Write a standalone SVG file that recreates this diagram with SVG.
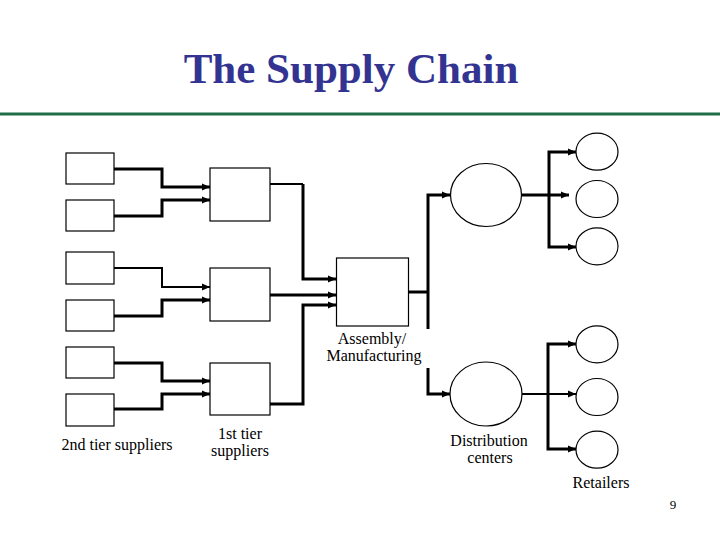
<svg xmlns="http://www.w3.org/2000/svg" width="720" height="540" viewBox="0 0 720 540">
<style>
.box{fill:#fff;stroke:#000;stroke-width:1.2}
.c{fill:none;stroke:#000;stroke-linejoin:miter}
.tk{stroke-width:3}
.tn{stroke-width:2}
.lbl{font-family:"Liberation Serif","Times New Roman",serif;font-size:16px;fill:#000;text-anchor:middle}
.title{font-family:"Liberation Serif","Times New Roman",serif;font-size:43px;font-weight:bold;fill:#333391;text-anchor:middle}
</style>
<defs>
<marker id="ah" markerUnits="userSpaceOnUse" markerWidth="9" markerHeight="8" refX="8" refY="4" orient="auto">
<path d="M0,0.5 L8,4 L0,7.5 z" fill="#000"/>
</marker>
</defs>
<rect width="720" height="540" fill="#fff"/>
<text class="title" x="351" y="83">The Supply Chain</text>
<rect x="0" y="112.5" width="720" height="3" fill="#1e6e46"/>

<g id="connectors">
<path class="c tk" d="M114,169 H162 V187 H210" marker-end="url(#ah)"/>
<path class="c tk" d="M114,216 H162 V200 H210" marker-end="url(#ah)"/>
<path class="c tn" d="M114,268 H162 V287 H210" marker-end="url(#ah)"/>
<path class="c tk" d="M114,316 H162 V300 H210" marker-end="url(#ah)"/>
<path class="c tk" d="M114,363 H162 V381 H210" marker-end="url(#ah)"/>
<path class="c tk" d="M114,409 H162 V394 H210" marker-end="url(#ah)"/>
<path class="c tn" d="M270,184 H303"/>
<path class="c tk" d="M303,184 V279 H336" marker-end="url(#ah)"/>
<path class="c tk" d="M270,295 H336" marker-end="url(#ah)"/>
<path class="c tk" d="M270,404 H303 V305 H336" marker-end="url(#ah)"/>
<path class="c tk" d="M409,292 H428"/>
<path class="c tk" d="M428,329 V195 H450" marker-end="url(#ah)"/>
<path class="c tk" d="M428,368 V394 H450" marker-end="url(#ah)"/>
<path class="c tk" d="M522,195 H569" marker-end="url(#ah)"/>
<path class="c tk" d="M549,195 V152 H576" marker-end="url(#ah)"/>
<path class="c tk" d="M549,195 V247 H576" marker-end="url(#ah)"/>
<path class="c tn" d="M522,394 H576" marker-end="url(#ah)"/>
<path class="c tk" d="M548,394 V344 H576" marker-end="url(#ah)"/>
<path class="c tk" d="M548,394 V449 H576" marker-end="url(#ah)"/>
</g>

<g id="s2-1"><rect class="box" x="66" y="153" width="48" height="31"/></g>
<g id="s2-2"><rect class="box" x="66" y="200" width="48" height="31"/></g>
<g id="s2-3"><rect class="box" x="66" y="252" width="48" height="32"/></g>
<g id="s2-4"><rect class="box" x="66" y="300" width="48" height="31"/></g>
<g id="s2-5"><rect class="box" x="66" y="347" width="48" height="31"/></g>
<g id="s2-6"><rect class="box" x="66" y="394" width="48" height="32"/></g>
<g id="label-s2"><text class="lbl" x="117" y="450">2nd tier suppliers</text></g>

<g id="s1-1"><rect class="box" x="210" y="168" width="60" height="53"/></g>
<g id="s1-2"><rect class="box" x="210" y="268" width="60" height="53"/></g>
<g id="s1-3"><rect class="box" x="210" y="363" width="60" height="52"/></g>
<g id="label-s1"><text class="lbl" x="240" y="439">1st tier</text><text class="lbl" x="240" y="456">suppliers</text></g>

<g id="assembly"><rect class="box" x="336.5" y="258" width="72" height="68"/>
<text class="lbl" x="372" y="344">Assembly/</text><text class="lbl" x="374" y="361">Manufacturing</text></g>

<g id="dc-1"><ellipse class="box" cx="486" cy="195" rx="35.5" ry="31.5"/></g>
<g id="dc-2"><ellipse class="box" cx="486" cy="394" rx="36" ry="32"/></g>
<g id="label-dc"><text class="lbl" x="489" y="446">Distribution</text><text class="lbl" x="490" y="463">centers</text></g>

<g id="r-1"><ellipse class="box" cx="597" cy="151.7" rx="21" ry="18.5"/></g>
<g id="r-2"><ellipse class="box" cx="597" cy="199" rx="21" ry="18.5"/></g>
<g id="r-3"><ellipse class="box" cx="597" cy="246.3" rx="21" ry="18.5"/></g>
<g id="r-4"><ellipse class="box" cx="597" cy="344.3" rx="21" ry="18.5"/></g>
<g id="r-5"><ellipse class="box" cx="597" cy="397" rx="21" ry="18.5"/></g>
<g id="r-6"><ellipse class="box" cx="597" cy="449.7" rx="21" ry="18.5"/></g>
<g id="label-r"><text class="lbl" x="601" y="488">Retailers</text></g>

<text x="673" y="509" style="font-family:'Liberation Serif','Times New Roman',serif;font-size:13px;fill:#000;text-anchor:middle">9</text>
</svg>
